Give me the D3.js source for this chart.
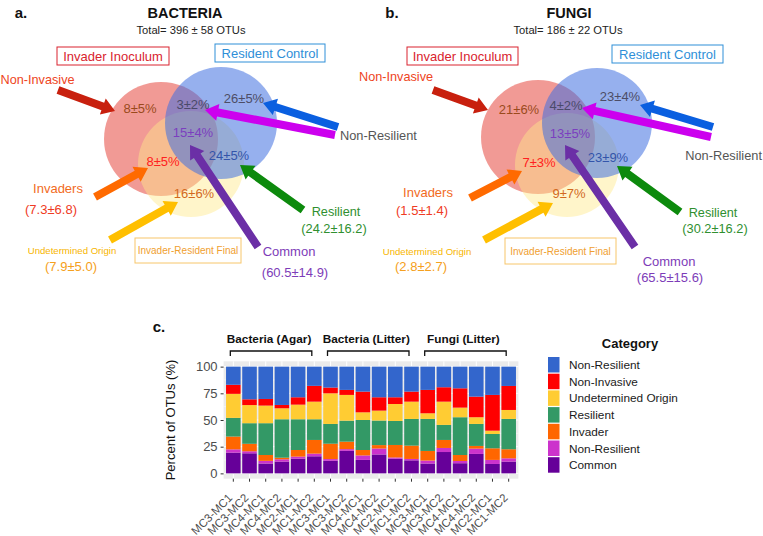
<!DOCTYPE html>
<html><head><meta charset="utf-8">
<script src="https://cdn.jsdelivr.net/npm/d3@7"></script>
<style>body{margin:0;background:#fff}svg{display:block}text{font-family:"Liberation Sans",Arial,sans-serif}</style>
</head><body>
<svg id="c" width="763" height="536"></svg>
<script>
// ---------- Data ----------
const sampleLabels = ["MC3-MC1","MC3-MC2","MC4-MC1","MC4-MC2","MC2-MC1","MC1-MC2",
                      "MC3-MC1","MC3-MC2","MC4-MC1","MC4-MC2","MC2-MC1","MC1-MC2",
                      "MC3-MC1","MC3-MC2","MC4-MC1","MC4-MC2","MC2-MC1","MC1-MC2"];
const groupNames = ["Bacteria (Agar)","Bacteria (Litter)","Fungi (Litter)"];
const seriesKeys = ["Common","NonResilientM","Invader","Resilient","Undetermined","NonInvasive","NonResilientB"];
const legendLabels = ["Non-Resilient","Non-Invasive","Undetermined Origin","Resilient","Invader","Non-Resilient","Common"];
const legendColors = ["#3366CC","#FF0000","#FFCC33","#339966","#FF6600","#CC33CC","#660099"];
const common        = [19.4,18.8, 9.2,11.0,13.8,16.0, 11.8,21.1,12.6,17.7,13.7,12.2,  9.2,20.0, 9.5,18.2, 8.8,11.0];
const nonResilientM = [ 3.1, 1.9, 2.5, 2.2, 1.9, 2.5,  1.6, 1.6, 4.2, 5.6, 1.2, 1.3,  2.8, 3.8, 2.1, 5.0, 3.8, 3.1];
const invader       = [12.0, 7.0, 5.5, 1.5, 6.2,12.8, 14.4, 7.0, 5.1, 3.2,11.7,12.5,  9.0, 7.5, 5.6, 2.5,10.9, 8.5];
const resilient     = [17.5,19.3,29.8,36.0,28.8,19.4, 18.5,19.7,28.1,23.0,22.5,25.0, 30.0,14.1,35.4,20.6,13.4,28.4];
const undetermined  = [22.5,17.0,16.5,10.3,13.7,16.5, 28.7,24.1, 7.2, 9.3,15.9,16.2,  5.3,21.8, 9.0, 6.3, 3.1, 8.4];
const nonInvasive   = [ 8.5, 5.4, 6.2, 3.1, 6.9,14.8,  5.4, 4.7,19.4,12.5, 6.3, 9.4, 21.9,13.5,18.1,19.3,33.5,22.5];
const nonResilientB = [17.0,30.6,30.3,35.9,28.7,18.0, 19.6,21.8,23.4,28.7,28.7,23.4, 21.8,19.3,20.3,28.1,26.5,18.1];
const yTicks = [0,25,50,75,100];

// Venn texts
const vennTitles = ["BACTERIA","FUNGI"];
const vennTotals = ["Total= 396 ± 58 OTUs","Total= 186 ± 22 OTUs"];
const vennPercents = [["8±5%","3±2%","26±5%","15±4%","8±5%","24±5%","16±6%"],
                      ["21±6%","4±2%","23±4%","13±5%","7±3%","23±9%","9±7%"]];
const invadersCounts = ["(7.3±6.8)","(1.5±1.4)"];
const undeterminedCounts = ["(7.9±5.0)","(2.8±2.7)"];
const resilientCounts = ["(24.2±16.2)","(30.2±16.2)"];
const commonCounts = ["(60.5±14.9)","(65.5±15.6)"];

const svg = d3.select("#c");
const F = '"Liberation Sans",Arial,sans-serif';

// ---------- Venn diagrams ----------
function arrow(g, x1,y1,x2,y2,color){
  const sw=4, hw=8.5, hl=13;
  const dx=x2-x1, dy=y2-y1, L=Math.hypot(dx,dy), ux=dx/L, uy=dy/L, px=-uy, py=ux;
  const bx=x2-ux*hl, by=y2-uy*hl;
  const pts=[[x1+px*sw,y1+py*sw],[bx+px*sw,by+py*sw],[bx+px*hw,by+py*hw],[x2,y2],
             [bx-px*hw,by-py*hw],[bx-px*sw,by-py*sw],[x1-px*sw,y1-py*sw]];
  g.append("polygon").attr("points",pts.map(p=>p.join(",")).join(" ")).attr("fill",color);
}
function txt(g,x,y,s,opt){
  const t=g.append("text").attr("x",x).attr("y",y).text(s)
    .attr("font-size",opt.size||13).attr("fill",opt.color||"#333")
    .attr("text-anchor",opt.anchor||"middle").attr("dominant-baseline","central");
  if(opt.bold) t.attr("font-weight","bold");
  return t;
}
const vennCfg = [
 {panel:"a.", px:21, title:185, total:191,
  red:[161,139,57], blue:[221,123,56], yellow:[191,164,53],
  boxI:[57,47,112,18], boxR:[215,44,110,18],
  nonInv:[0.5,80,"start"], pct:[[140,108],[193,104],[244,98],[193,132],[163,161],[229,155],[194,193]],
  nonRes:[340,135,"start"], invaders:[58,188], invCnt:[51,209], und:[72,250], undCnt:[71,266],
  finalBox:[135,238,106,25], resil:[336,212], resCnt:[334,228], common:[289,251], comCnt:[295,272],
  arrows:[[58,90,115,111,"#c8200e"],[338,127,263,103,"#0a5fe0"],[335,135,205,110,"#cc00ee"],
          [258,247,190,145,"#6b2fa6"],[303,210,240,165,"#0d8a0d"],[95,197,148,168,"#ff6a00"],[110,240,178,202,"#ffbf00"]]},
 {panel:"b.", px:392, title:569, total:568,
  red:[538,137,57], blue:[597,123,55], yellow:[567,165,52],
  boxI:[407,47,111,18], boxR:[612,45,111,18],
  nonInv:[359,77,"start"], pct:[[519,109],[566,105],[620,96],[570,133],[539,162],[608,157],[569,193]],
  nonRes:[762,155,"end"], invaders:[428,192], invCnt:[422,210], und:[427,251], undCnt:[421,266],
  finalBox:[505,238,111,26], resil:[713,213], resCnt:[715,228], common:[669,261], comCnt:[670,277],
  arrows:[[433,90,488,110,"#c8200e"],[713,127,640,105,"#0a5fe0"],[711,137,582,108,"#cc00ee"],
          [635,247,565,145,"#6b2fa6"],[680,212,617,166,"#0d8a0d"],[470,198,522,171,"#ff6a00"],[484,240,553,203,"#ffbf00"]]}
];
const pctColors = ["#9a4a1c","#4a4a6a","#4d4d66","#7b3fbf","#ff2020","#3355aa","#d2691e"];

vennCfg.forEach((c,i)=>{
  const g = svg.append("g");
  txt(g,c.px,12,c.panel,{size:15,bold:true,color:"#111"});
  txt(g,c.title,13,vennTitles[i],{size:14.5,bold:true,color:"#111"});
  txt(g,c.total,30,vennTotals[i],{size:11.2,color:"#222"});
  g.append("circle").attr("cx",c.red[0]).attr("cy",c.red[1]).attr("r",c.red[2]).attr("fill","#e8574e").attr("fill-opacity",0.6);
  g.append("circle").attr("cx",c.yellow[0]).attr("cy",c.yellow[1]).attr("r",c.yellow[2]).attr("fill","#ffe98a").attr("fill-opacity",0.45);
  g.append("circle").attr("cx",c.blue[0]).attr("cy",c.blue[1]).attr("r",c.blue[2]).attr("fill","#3f6fe0").attr("fill-opacity",0.55);
  // boxes
  g.append("rect").attr("x",c.boxI[0]).attr("y",c.boxI[1]).attr("width",c.boxI[2]).attr("height",c.boxI[3]).attr("fill","#fff").attr("stroke","#d9232e").attr("stroke-width",1);
  txt(g,c.boxI[0]+c.boxI[2]/2,c.boxI[1]+c.boxI[3]/2,"Invader Inoculum",{size:13,color:"#d9232e"});
  g.append("rect").attr("x",c.boxR[0]).attr("y",c.boxR[1]).attr("width",c.boxR[2]).attr("height",c.boxR[3]).attr("fill","#fff").attr("stroke","#2f8fd8").attr("stroke-width",1);
  txt(g,c.boxR[0]+c.boxR[2]/2,c.boxR[1]+c.boxR[3]/2,"Resident Control",{size:13,color:"#2f8fd8"});
  g.append("rect").attr("x",c.finalBox[0]).attr("y",c.finalBox[1]).attr("width",c.finalBox[2]).attr("height",c.finalBox[3]).attr("fill","none").attr("stroke","#f7c66a").attr("stroke-width",1);
  txt(g,c.finalBox[0]+c.finalBox[2]/2,c.finalBox[1]+c.finalBox[3]/2,"Invader-Resident Final",{size:10,color:"#f0a030"});
  vennPercents[i].forEach((s,k)=>txt(g,c.pct[k][0],c.pct[k][1],s,{size:13,color:pctColors[k]}));
  c.arrows.forEach(a=>arrow(g,a[0],a[1],a[2],a[3],a[4]));
  txt(g,c.nonInv[0],c.nonInv[1],"Non-Invasive",{size:12.7,color:"#ee4422",anchor:c.nonInv[2]});
  txt(g,c.nonRes[0],c.nonRes[1],"Non-Resilient",{size:12.8,color:"#555",anchor:c.nonRes[2]});
  txt(g,c.invaders[0],c.invaders[1],"Invaders",{size:13,color:"#f26b1d"});
  txt(g,c.invCnt[0],c.invCnt[1],invadersCounts[i],{size:13,color:"#ef3b24"});
  txt(g,c.und[0],c.und[1],"Undetermined Origin",{size:9.6,color:"#f7b500"});
  txt(g,c.undCnt[0],c.undCnt[1],undeterminedCounts[i],{size:13,color:"#f5a020"});
  txt(g,c.resil[0],c.resil[1],"Resilient",{size:12.7,color:"#2f8f2f"});
  txt(g,c.resCnt[0],c.resCnt[1],resilientCounts[i],{size:12.8,color:"#2f8f2f"});
  txt(g,c.common[0],c.common[1],"Common",{size:13,color:"#7d3cb8"});
  txt(g,c.comCnt[0],c.comCnt[1],commonCounts[i],{size:13,color:"#7d3cb8"});
});

// ---------- Stacked bar chart ----------
const table = sampleLabels.map((s,i)=>({idx:i,Common:common[i],NonResilientM:nonResilientM[i],Invader:invader[i],
  Resilient:resilient[i],Undetermined:undetermined[i],NonInvasive:nonInvasive[i],NonResilientB:nonResilientB[i]}));
const colorByKey = {Common:"#660099",NonResilientM:"#CC33CC",Invader:"#FF6600",Resilient:"#339966",
  Undetermined:"#FFCC33",NonInvasive:"#FF0000",NonResilientB:"#3366CC"};
const pL=223.6, pR=518.4, pT=361.3, pB=478.7;
const x = d3.scaleBand().domain(d3.range(sampleLabels.length)).range([pL,pR]).paddingInner(0.1).paddingOuter(0.15);
const y = d3.scaleLinear().domain([-5,105]).range([pB,pT]);
const cx = i => x(i)+x.bandwidth()/2;
const cg = svg.append("g");
cg.append("rect").attr("x",pL).attr("y",pT).attr("width",pR-pL).attr("height",pB-pT).attr("fill","#ebebeb");
[12.5,37.5,62.5,87.5].forEach(v=>cg.append("line").attr("x1",pL).attr("x2",pR).attr("y1",y(v)).attr("y2",y(v)).attr("stroke","#fff").attr("stroke-width",0.5));
yTicks.forEach(v=>cg.append("line").attr("x1",pL).attr("x2",pR).attr("y1",y(v)).attr("y2",y(v)).attr("stroke","#fff").attr("stroke-width",1));
sampleLabels.forEach((s,i)=>cg.append("line").attr("x1",cx(i)).attr("x2",cx(i)).attr("y1",pT).attr("y2",pB).attr("stroke","#fff").attr("stroke-width",1));
const stacked = d3.stack().keys(seriesKeys)(table);
cg.selectAll("g.layer").data(stacked).join("g").attr("fill",d=>colorByKey[d.key])
  .selectAll("rect").data(d=>d).join("rect")
  .attr("x",d=>x(d.data.idx)).attr("width",x.bandwidth())
  .attr("y",d=>y(d[1])).attr("height",d=>y(d[0])-y(d[1]));
// y axis
const ya = cg.append("g").attr("transform",`translate(${pL},0)`)
  .call(d3.axisLeft(y).tickValues(yTicks).tickSize(3).tickPadding(3));
ya.select(".domain").remove();
ya.selectAll("line").attr("stroke","#333");
ya.selectAll("text").attr("font-size",13).attr("fill","#4d4d4d").attr("font-family",F);
// x axis
const xa = cg.append("g").attr("transform",`translate(0,${pB})`)
  .call(d3.axisBottom(x).tickSize(3).tickFormat(i=>sampleLabels[i]));
xa.select(".domain").remove();
xa.selectAll("line").attr("stroke","#333");
xa.selectAll("text").attr("font-size",11.5).attr("fill","#4d4d4d").attr("font-family",F)
  .attr("text-anchor","end").attr("dy",null).attr("dominant-baseline","central")
  .attr("y",0).attr("x",0).attr("transform","translate(-3,17) rotate(-45)");
// y title
cg.append("text").attr("transform",`translate(170,${(pT+pB)/2}) rotate(-90)`).attr("text-anchor","middle")
  .attr("dominant-baseline","central").attr("font-size",13).attr("fill","#111").text("Percent of OTUs (%)");
// panel label
txt(cg,159,326,"c.",{size:15,bold:true,color:"#111"});
// group brackets
groupNames.forEach((gname,k)=>{
  const a = cx(k*6)-3, b = cx(k*6+5)-2.5;
  cg.append("path").attr("d",`M${a},356 V351 H${b} V356`).attr("fill","none").attr("stroke","#111").attr("stroke-width",1.3);
  txt(cg,(a+b)/2-2,339,gname,{size:11.8,bold:true,color:"#111"});
});
// legend
const lg = svg.append("g");
txt(lg,630,343,"Category",{size:13,bold:true,color:"#111"});
legendLabels.forEach((s,k)=>{
  const yy = 357 + k*16.7;
  lg.append("rect").attr("x",548).attr("y",yy).attr("width",11.5).attr("height",15.5).attr("fill",legendColors[k]);
  txt(lg,569,yy+8,s,{size:11.8,color:"#1a1a1a",anchor:"start"});
});
</script>
</body></html>
